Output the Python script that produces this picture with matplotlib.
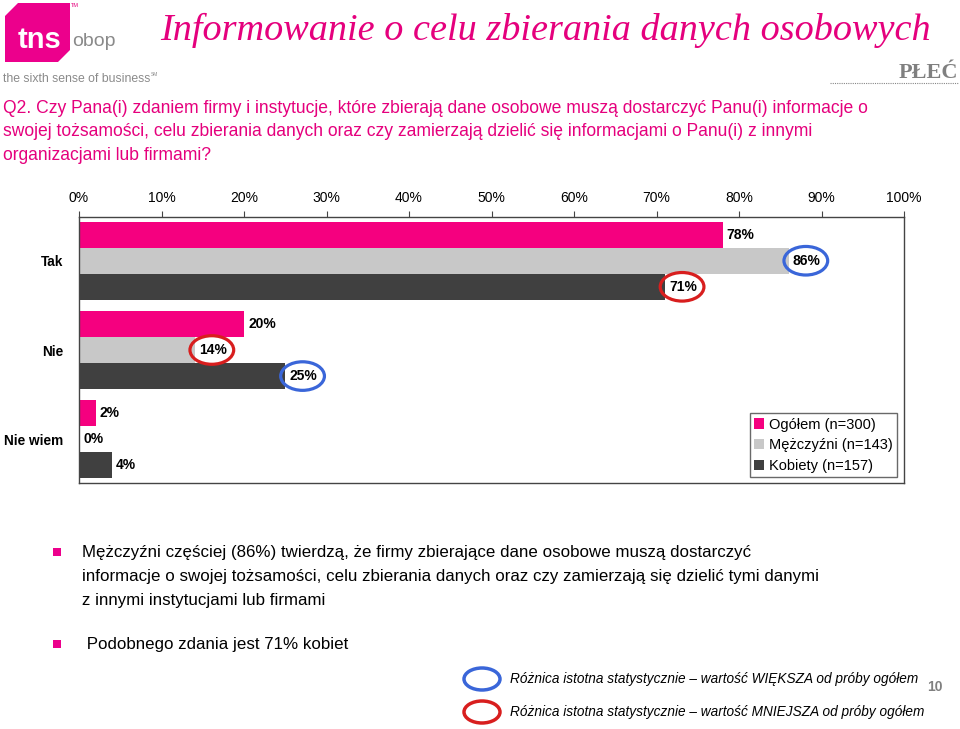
import matplotlib
matplotlib.use("Agg")
import matplotlib.pyplot as plt
from matplotlib.patches import Ellipse, Rectangle, Polygon
import numpy as np

plt.rcParams['font.family'] = ['Liberation Sans', 'DejaVu Sans']

categories = ["Tak", "Nie", "Nie wiem"]
series_names = ["Ogółem (n=300)", "Mężczyźni (n=143)", "Kobiety (n=157)"]
ogolem = [78, 20, 2]
mezczyzni = [86, 14, 0]
kobiety = [71, 25, 4]
# significance: 1 = greater (blue), -1 = smaller (red), 0 = none
sig_ogolem = [0, 0, 0]
sig_mezczyzni = [1, -1, 0]
sig_kobiety = [-1, 1, 0]
tick_values = [0, 10, 20, 30, 40, 50, 60, 70, 80, 90, 100]
tick_labels = [f"{v}%" for v in tick_values]

PINK = '#F5007F'
GRAY = '#C8C8C8'
DARK = '#404040'
colors = [PINK, GRAY, DARK]
TITLE_PINK = '#E5007D'

fig = plt.figure(figsize=(9.6, 7.29), dpi=100)

# overlay axes in pixel coordinates
ov = fig.add_axes([0, 0, 1, 1], zorder=0)
ov.set_xlim(0, 960)
ov.set_ylim(729, 0)
ov.axis('off')

# logo
logo = Polygon([[18, 3], [70, 3], [70, 50], [58, 62], [5, 62], [5, 16]],
               closed=True, facecolor='#EC008C', edgecolor='none')
ov.add_patch(logo)
ov.text(40, 40, "tns", color='white', fontsize=21, fontweight='bold', ha='center', va='center')
ov.text(72, 41, "obop", color='#8A8A8A', fontsize=14, ha='left', va='center')
ov.text(71, 5, "TM", color='#E5007D', fontsize=4, ha='left', va='center')
ov.text(3, 79, "the sixth sense of business", color='#8A8A8A', fontsize=8.8, ha='left', va='center')
ov.text(151, 74, "SM", color='#8A8A8A', fontsize=3.5, ha='left', va='center')

# title
ov.text(931, 30, "Informowanie o celu zbierania danych osobowych", color=TITLE_PINK,
        fontsize=27.5, fontstyle='italic', family='Liberation Serif', ha='right', va='center')
ov.text(958, 73, "PŁEĆ", color='#808080', fontsize=16, fontweight='bold',
        family='Liberation Serif', ha='right', va='center')
ov.plot([830, 958], [83, 83], color='#888888', lw=0.8, ls=(0, (1, 1)))

# question
q_lines = ["Q2. Czy Pana(i) zdaniem firmy i instytucje, które zbierają dane osobowe muszą dostarczyć Panu(i) informacje o",
           "swojej tożsamości, celu zbierania danych oraz czy zamierzają dzielić się informacjami o Panu(i) z innymi",
           "organizacjami lub firmami?"]
for i, line in enumerate(q_lines):
    ov.text(3, 108 + i * 23.5, line, color=TITLE_PINK, fontsize=12.65, ha='left', va='center')

# bullets
bullets = [(552, "Mężczyźni częściej (86%) twierdzą, że firmy zbierające dane osobowe muszą dostarczyć"),
           (576, "informacje o swojej tożsamości, celu zbierania danych oraz czy zamierzają się dzielić tymi danymi"),
           (600, "z innymi instytucjami lub firmami"),
           (644, " Podobnego zdania jest 71% kobiet")]
for y, t in bullets:
    ov.text(82, y, t, color='black', fontsize=12.2, ha='left', va='center')
for y in [552, 644]:
    ov.add_patch(Rectangle((53, y - 4), 8, 8, facecolor='#EC008C', edgecolor='none'))

# bottom legend for ellipses
ov.add_patch(Ellipse((482, 679), 36, 22, fill=False, edgecolor='#3A66D9', lw=2.5))
ov.add_patch(Ellipse((482, 712), 36, 22, fill=False, edgecolor='#D81E1E', lw=2.5))
ov.text(510, 679, "Różnica istotna statystycznie – wartość WIĘKSZA od próby ogółem",
        fontsize=9.85, fontstyle='italic', ha='left', va='center')
ov.text(510, 712, "Różnica istotna statystycznie – wartość MNIEJSZA od próby ogółem",
        fontsize=9.85, fontstyle='italic', ha='left', va='center')
ov.text(935, 687, "10", fontsize=10, color='#808080', fontweight='bold', ha='center', va='center')

# main chart
ax = fig.add_axes([79 / 960, 1 - 483 / 729, (904 - 79) / 960, (483 - 217) / 729], zorder=1)
ax.patch.set_alpha(0)
y = np.arange(len(categories))
h = 0.292
all_series = [ogolem, mezczyzni, kobiety]
all_sig = [sig_ogolem, sig_mezczyzni, sig_kobiety]
for k, (vals, sig) in enumerate(zip(all_series, all_sig)):
    yy = y + (k - 1) * h
    ax.barh(yy, vals, height=h, color=colors[k], label=series_names[k], zorder=2)
    for yi, v, s in zip(yy, vals, sig):
        tx = v + 0.5
        ax.text(tx, yi, f"{v}%", fontsize=10, fontweight='bold', ha='left', va='center', zorder=4)
        if s != 0:
            ec = '#3A66D9' if s > 0 else '#D81E1E'
            ax.add_patch(Ellipse((v + 2.1, yi), 5.3, 0.32, fill=False, edgecolor=ec, lw=2.3, zorder=5))

ax.set_xlim(0, 100)
ax.set_ylim(2.49, -0.49)
ax.set_xticks(tick_values)
ax.set_xticklabels(tick_labels, fontsize=10)
ax.xaxis.set_ticks_position('top')
ax.tick_params(axis='x', direction='out', length=4, pad=5, color='#444444')
ax.set_yticks(y)
ax.set_yticklabels(categories, fontsize=9.8, fontweight='bold')
ax.tick_params(axis='y', length=0, pad=11)
for sp in ax.spines.values():
    sp.set_color('#444444')
    sp.set_linewidth(1.0)

leg = ax.legend(loc='lower right', bbox_to_anchor=(0.9915, 0.022), fontsize=10.5, frameon=True,
                fancybox=False, edgecolor='#444444', handlelength=0.7, handleheight=0.7,
                handletextpad=0.3, borderpad=0.3, labelspacing=0.45, borderaxespad=0)
leg.get_frame().set_linewidth(1.0)

fig.savefig("out.png", dpi=100)
